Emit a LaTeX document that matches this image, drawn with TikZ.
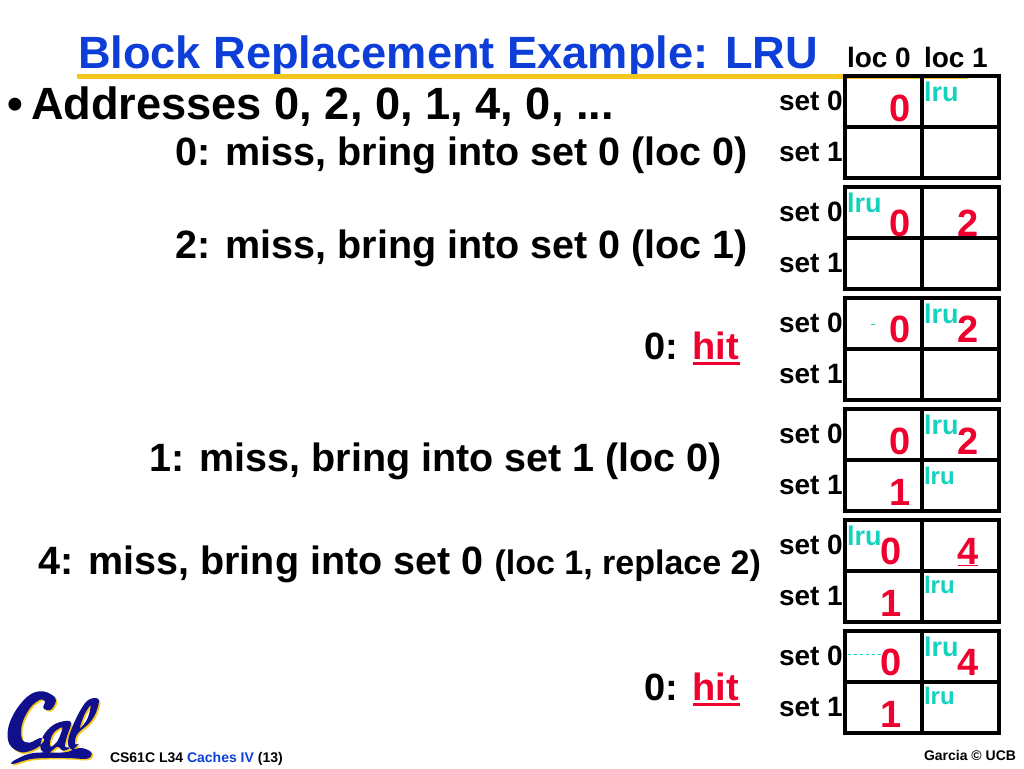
\documentclass[tikz,border=0pt]{standalone}
\usepackage{fontspec}
\setmainfont{Liberation Sans}
\definecolor{titleblue}{HTML}{0D3FD8}
\definecolor{ruleyellow}{HTML}{F6C71E}
\definecolor{hitred}{HTML}{F0002F}
\definecolor{lruteal}{HTML}{14D2BE}
\definecolor{calblue}{HTML}{10108C}
\newcommand{\hitword}{\rlap{\raisebox{-6pt}{\rule{47pt}{3pt}}}hit}
\newcommand{\calshape}{
  plot[smooth cycle, tension=0.6] coordinates {(165,40) (130,22) (90,32) (50,75) (25,130) (28,180) (65,205) (110,192) (133,168) (120,162) (88,176) (66,165) (66,120) (90,72) (120,47) (135,52) (130,72) (150,78) (165,60)}
  plot[smooth cycle, tension=0.6] coordinates {(212,113) (165,120) (130,155) (122,195) (145,207) (172,188) (190,200) (212,190) (195,188) (200,160)}
  plot[smooth cycle, tension=0.6] coordinates {(186,130) (162,145) (150,172) (152,188) (170,175) (182,150)}
  plot[smooth cycle, tension=0.6] coordinates {(295,45) (262,50) (230,100) (205,165) (212,195) (245,192) (274,205) (262,224) (200,222) (100,224) (38,240) (45,228) (100,207) (200,204) (236,180) (225,180) (232,150) (270,115) (290,80)}
  plot[smooth cycle, tension=0.6] coordinates {(272,65) (254,90) (240,132) (262,105)}
}
\tikzset{x=1pt,y=-1pt}
\tikzstyle{txt} = [anchor=base west, inner sep=0pt, outer sep=0pt, text=black]
\tikzstyle{title} = [txt, text=titleblue, font=\fontsize{45.2}{45.2}\bfseries\selectfont]
\tikzstyle{head} = [txt, font=\fontsize{45.2}{45.2}\bfseries\selectfont]
\tikzstyle{line} = [txt, anchor=base east, font=\fontsize{39.5}{39.5}\bfseries\selectfont]
\tikzstyle{hitline} = [txt, anchor=base east, font=\fontsize{38}{38}\bfseries\selectfont]
\tikzstyle{small} = [txt, font=\fontsize{28}{28}\bfseries\selectfont]
\tikzstyle{cell} = [rectangle, draw=black, line width=4pt, minimum width=77pt, minimum height=51pt, inner sep=0pt]
\tikzstyle{val} = [txt, anchor=base, text=hitred, font=\fontsize{38}{38}\bfseries\selectfont]
\tikzstyle{lru} = [txt, text=lruteal, font=\fontsize{27}{27}\bfseries\selectfont]
\tikzstyle{lrus} = [txt, text=lruteal, font=\fontsize{24}{24}\bfseries\selectfont]
\tikzstyle{foot} = [txt, font=\fontsize{14}{14}\bfseries\selectfont]
\tikzstyle{resid} = [lruteal, line width=1pt, dashed]

\begin{document}
\begin{tikzpicture}[node distance=51pt]
        \useasboundingbox (0,0) rectangle (1024,768);

        \node (titletxt) [title] at (78,68) {Block Replacement Example: LRU};
        \fill[ruleyellow] (77,74) rectangle (968,79);
        \node (bullet) [txt, font=\fontsize{45}{45}\bfseries\selectfont] at (8,119) {•};
        \node (addr) [head] at (31,119) {Addresses 0, 2, 0, 1, 4, 0, ...};
        \node (line1) [line] at (748,165) {0: miss, bring into set 0 (loc 0)};
        \node (line2) [line] at (748,258) {2: miss, bring into set 0 (loc 1)};
        \node (line3) [hitline] at (739,359) {0: \textcolor{hitred}{\hitword}};
        \node (line4) [line] at (722,471) {1: miss, bring into set 1 (loc 0)};
        \node (line5) [line] at (761,574) {4: miss, bring into set 0 {\fontsize{34}{34}\selectfont (loc 1, replace 2)}};
        \node (line6) [hitline] at (739,700) {0: \textcolor{hitred}{\hitword}};

        \node (loc0) [small] at (847,67) {loc 0};
        \node (loc1) [small] at (924,67) {loc 1};

        % block 1
        \node (a00) [cell] at (883.5,101.5) {};
        \node (a10) [cell, below of=a00] {};
        \node (a01) [cell, right of=a00, node distance=77pt] {};
        \node (a11) [cell, right of=a10, node distance=77pt] {};
        \node (as0) [small] at (779,110) {set 0};
        \node (as1) [small] at (779,161) {set 1};
        \node (av0) [val] at (900,121) {0};
        \node (al0) [lru] at (924,101) {lru};

        % block 2
        \node (b00) [cell] at (883.5,212.5) {};
        \node (b10) [cell, below of=b00] {};
        \node (b01) [cell, right of=b00, node distance=77pt] {};
        \node (b11) [cell, right of=b10, node distance=77pt] {};
        \node (bs0) [small] at (779,221) {set 0};
        \node (bs1) [small] at (779,272) {set 1};
        \node (bv0) [val] at (900,236) {0};
        \node (bv1) [val] at (968,236) {2};
        \node (bl0) [lru] at (847,212) {lru};

        % block 3
        \node (c00) [cell] at (883.5,323.5) {};
        \node (c10) [cell, below of=c00] {};
        \node (c01) [cell, right of=c00, node distance=77pt] {};
        \node (c11) [cell, right of=c10, node distance=77pt] {};
        \node (cs0) [small] at (779,332) {set 0};
        \node (cs1) [small] at (779,383) {set 1};
        \node (cv0) [val] at (900,342) {0};
        \node (cv1) [val] at (968,342) {2};
        \node (cl0) [lru] at (924,323) {lru};
        \draw[lruteal, line width=1pt] (871,324) -- (875,324);

        % block 4
        \node (d00) [cell] at (883.5,434.5) {};
        \node (d10) [cell, below of=d00] {};
        \node (d01) [cell, right of=d00, node distance=77pt] {};
        \node (d11) [cell, right of=d10, node distance=77pt] {};
        \node (ds0) [small] at (779,443) {set 0};
        \node (ds1) [small] at (779,494) {set 1};
        \node (dv0) [val] at (900,454) {0};
        \node (dv1) [val] at (968,454) {2};
        \node (dv2) [val] at (900,505) {1};
        \node (dl0) [lru] at (924,434) {lru};
        \node (dl1) [lrus] at (924,484) {lru};

        % block 5
        \node (e00) [cell] at (883.5,545.5) {};
        \node (e10) [cell, below of=e00] {};
        \node (e01) [cell, right of=e00, node distance=77pt] {};
        \node (e11) [cell, right of=e10, node distance=77pt] {};
        \node (es0) [small] at (779,554) {set 0};
        \node (es1) [small] at (779,605) {set 1};
        \node (ev0) [val] at (891,564) {0};
        \node (ev1) [val] at (968,564) {4};
        \node (ev2) [val] at (891,616) {1};
        \node (el0) [lru] at (847,545) {lru};
        \node (el1) [lrus] at (924,593) {lru};
        \draw[hitred, line width=1pt] (958,565) -- (978,565);

        % block 6
        \node (f00) [cell] at (883.5,656.5) {};
        \node (f10) [cell, below of=f00] {};
        \node (f01) [cell, right of=f00, node distance=77pt] {};
        \node (f11) [cell, right of=f10, node distance=77pt] {};
        \node (fs0) [small] at (779,665) {set 0};
        \node (fs1) [small] at (779,716) {set 1};
        \node (fv0) [val] at (891,675) {0};
        \node (fv1) [val] at (968,675) {4};
        \node (fv2) [val] at (891,727) {1};
        \node (fl0) [lru] at (924,656) {lru};
        \node (fl1) [lrus] at (924,704) {lru};
        \draw[resid] (848,654) -- (881,654);

        % footer
        \begin{scope}[shift={(1.5,685.5)}, scale=0.3333]
        \fill[ruleyellow, even odd rule] \calshape;
        \end{scope}
        \begin{scope}[shift={(0,684)}, scale=0.3333]
        \fill[calblue, even odd rule] \calshape;
        \end{scope}
        \node (footl) [foot] at (110,762) {CS61C L34 \textcolor{titleblue}{Caches IV} (13)};
        \node (footr) [foot, anchor=base east] at (1016,760) {Garcia © UCB};
\end{tikzpicture}
\end{document}
